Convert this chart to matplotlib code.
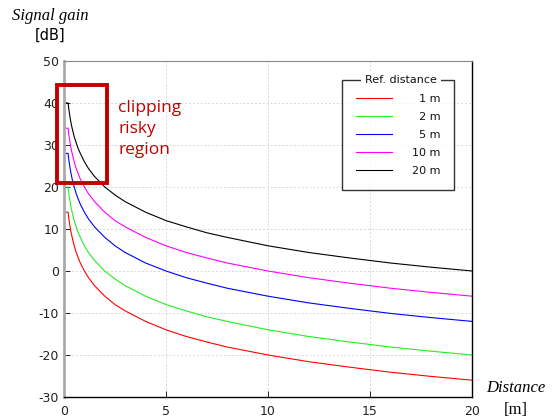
import matplotlib
matplotlib.use("Agg")
import matplotlib.pyplot as plt
from matplotlib.patches import Rectangle

plt.rcParams["axes.unicode_minus"] = False

distance = [0.1, 0.2, 0.25, 0.3, 0.35, 0.4, 0.5, 0.6, 0.7, 0.8, 1.0, 1.2, 1.5, 2, 2.5,
            3, 4, 5, 6, 7, 8, 10, 12, 14, 16, 18, 20]
gain_1m = [14.0, 14.0, 12.0, 10.5, 9.1, 8.0, 6.0, 4.4, 3.1, 1.9, 0.0, -1.6, -3.5, -6.0, -8.0,
           -9.5, -12.0, -14.0, -15.6, -16.9, -18.1, -20.0, -21.6, -22.9, -24.1, -25.1, -26.0]
gain_2m = [20.0, 20.0, 18.1, 16.5, 15.1, 14.0, 12.0, 10.5, 9.1, 8.0, 6.0, 4.4, 2.5, 0.0, -1.9,
           -3.5, -6.0, -8.0, -9.5, -10.9, -12.0, -14.0, -15.6, -16.9, -18.1, -19.1, -20.0]
gain_5m = [28.0, 28.0, 26.0, 24.4, 23.1, 21.9, 20.0, 18.4, 17.1, 15.9, 14.0, 12.4, 10.5, 8.0, 6.0,
           4.4, 1.9, 0.0, -1.6, -2.9, -4.1, -6.0, -7.6, -8.9, -10.1, -11.1, -12.0]
gain_10m = [34.0, 34.0, 32.0, 30.5, 29.1, 28.0, 26.0, 24.4, 23.1, 21.9, 20.0, 18.4, 16.5, 14.0, 12.0,
            10.5, 8.0, 6.0, 4.4, 3.1, 1.9, 0.0, -1.6, -2.9, -4.1, -5.1, -6.0]
gain_20m = [40.0, 40.0, 38.1, 36.5, 35.1, 34.0, 32.0, 30.5, 29.1, 28.0, 26.0, 24.4, 22.5, 20.0, 18.1,
            16.5, 14.0, 12.0, 10.5, 9.1, 8.0, 6.0, 4.4, 3.1, 1.9, 0.9, 0.0]
labels = ["1 m", "2 m", "5 m", "10 m", "20 m"]
colors = ["#ff0000", "#22ee22", "#0000ff", "#ff00ff", "#000000"]
x_ticks = [0, 5, 10, 15, 20]
y_ticks = [-30, -20, -10, 0, 10, 20, 30, 40, 50]
series = [gain_1m, gain_2m, gain_5m, gain_10m, gain_20m]

fig = plt.figure(figsize=(5.53, 4.2), dpi=100)
ax = fig.add_axes([0.1157, 0.0548, 0.7378, 0.8])

lines = []
for vals, lab, col in zip(series, labels, colors):
    ln, = ax.plot(distance, vals, color=col, lw=0.8, label="\u2007" * (4 - len(lab)) + lab)
    lines.append(ln)

ax.set_xlim(0, 20)
ax.set_ylim(-30, 50)
ax.set_xticks(x_ticks)
ax.set_yticks(y_ticks)
ax.grid(True, color="#d8d8d8", lw=0.7, linestyle=(0, (2, 2)))
ax.set_axisbelow(True)
ax.tick_params(direction="in", length=4, labelsize=9, colors="#222222", width=0.7)
ax.tick_params(axis="x", pad=6)
for s in ["bottom", "right"]:
    ax.spines[s].set_color("black")
    ax.spines[s].set_linewidth(1.0)
ax.spines["left"].set_color("#aaaaaa")
ax.spines["left"].set_linewidth(2.0)
ax.spines["top"].set_color("#888888")
ax.spines["top"].set_linewidth(0.8)

rect = Rectangle((-0.34, 21.0), 2.44, 23.3, fill=False, edgecolor="#c00000", lw=2.8, clip_on=False, zorder=5)
ax.add_patch(rect)
ax.text(2.65, 40.6, "clipping\nrisky\nregion", color="#c00000", fontsize=12.5, family="Open Sans",
        va="top", ha="left", linespacing=1.4)

leg = ax.legend(handles=lines, loc="upper right", bbox_to_anchor=(0.956, 0.943), frameon=True,
                fancybox=False, edgecolor="black", fontsize=8, labelspacing=0.72,
                handlelength=3.2, handletextpad=1.8, borderpad=1.25, borderaxespad=0)
leg.get_frame().set_linewidth(1.0)
for t in leg.get_texts():
    t.set_color("#111111")
ax.text(0.826, 0.943, "Ref. distance", transform=ax.transAxes, ha="center", va="center",
        fontsize=8, color="#111111", zorder=10,
        bbox=dict(facecolor="white", edgecolor="none", pad=3))

fig.text(0.091, 0.962, "Signal gain", family="Liberation Serif", style="italic", fontsize=12,
         ha="center", va="center")
fig.text(0.091, 0.917, "[dB]", family="DejaVu Sans", fontsize=10.5, ha="center", va="center")
fig.text(0.932, 0.077, "Distance", family="Liberation Serif", style="italic", fontsize=12,
         ha="center", va="center")
fig.text(0.932, 0.025, "[m]", family="Liberation Serif", fontsize=12, ha="center", va="center")

fig.savefig("out.png", dpi=100)
